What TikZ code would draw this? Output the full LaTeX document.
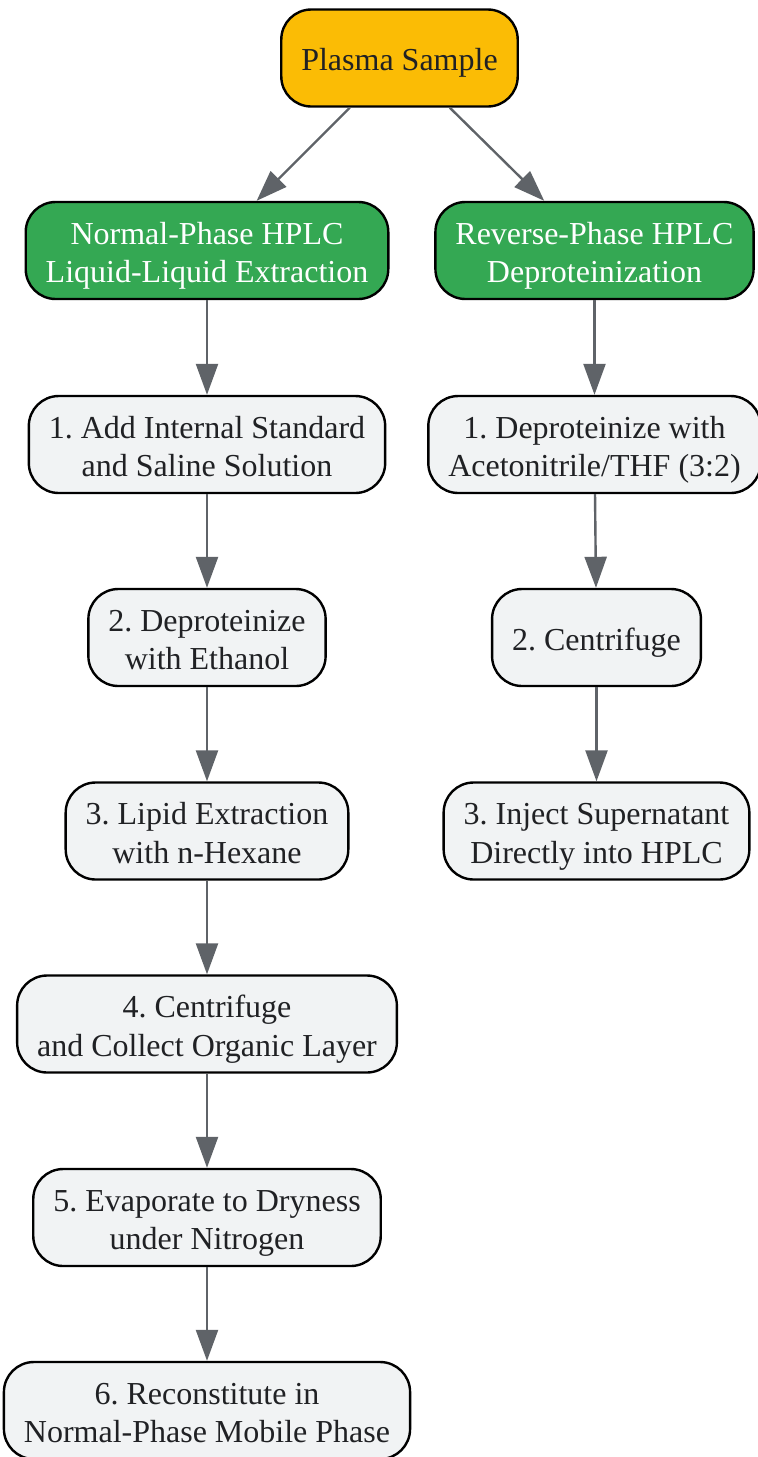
\documentclass[tikz,border=0pt]{standalone}
\usepackage{fontspec}
\setmainfont{Liberation Serif}
\usetikzlibrary{arrows.meta}
\frenchspacing

\definecolor{sampleyellow}{HTML}{FBBC05}
\definecolor{phasegreen}{HTML}{34A853}
\definecolor{stepgray}{HTML}{F1F3F4}
\definecolor{arrowgray}{HTML}{5F6368}
\definecolor{textdark}{HTML}{202124}

\tikzset{
  box/.style={draw=black, line width=1.2pt, rounded corners=15pt, align=center,
    minimum height=48.5pt, inner xsep=10pt, text=textdark,
    text height=34.2pt, text depth=2.2pt},
  oneline/.style={text height=15pt},
  samplebox/.style={box, fill=sampleyellow},
  phasebox/.style={box, fill=phasegreen, text=white},
  stepbox/.style={box, fill=stepgray},
  flow/.style={draw=arrowgray, line width=1.2pt, -{Triangle[length=15.5pt,width=11pt]}}
}

\begin{document}
\begin{tikzpicture}[x=0.5pt, y=-0.5pt, font=\fontsize{16pt}{19.2pt}\selectfont]
\useasboundingbox (0,0) rectangle (757,1457);
% top
\node [samplebox, oneline] (plasma) at (399.5,58) {Plasma Sample};
% two methods
\node [phasebox] (normal) at (207,250.5) {Normal-Phase HPLC\\Liquid-Liquid Extraction};
\node [phasebox] (reverse) at (594.5,250.5) {Reverse-Phase HPLC\\Deproteinization};
% normal-phase steps
\node [stepbox] (n1) at (207,444.5) {1. Add Internal Standard\\and Saline Solution};
\node [stepbox] (n2) at (207,637.5) {2. Deproteinize\\with Ethanol};
\node [stepbox] (n3) at (207,831) {3. Lipid Extraction\\with n-Hexane};
\node [stepbox] (n4) at (207,1024) {4. Centrifuge\\and Collect Organic Layer};
\node [stepbox] (n5) at (207,1217.5) {5. Evaporate to Dryness\\under Nitrogen};
\node [stepbox] (n6) at (207,1410.5) {6. Reconstitute in\\Normal-Phase Mobile Phase};
% reverse-phase steps
\node [stepbox] (r1) at (594.5,444.5) {1. Deproteinize with\\Acetonitrile/THF (3:2)};
\node [stepbox, oneline] (r2) at (596.5,637.5) {2. Centrifuge};
\node [stepbox] (r3) at (596.5,831) {3. Inject Supernatant\\Directly into HPLC};
% arrows
\draw [flow] (plasma) -- (normal);
\draw [flow] (plasma) -- (reverse);
\draw [flow] (normal) -- (n1);
\draw [flow] (n1) -- (n2);
\draw [flow] (n2) -- (n3);
\draw [flow] (n3) -- (n4);
\draw [flow] (n4) -- (n5);
\draw [flow] (n5) -- (n6);
\draw [flow] (reverse) -- (r1);
\draw [flow] (r1) -- (r2);
\draw [flow] (r2) -- (r3);
\end{tikzpicture}
\end{document}
